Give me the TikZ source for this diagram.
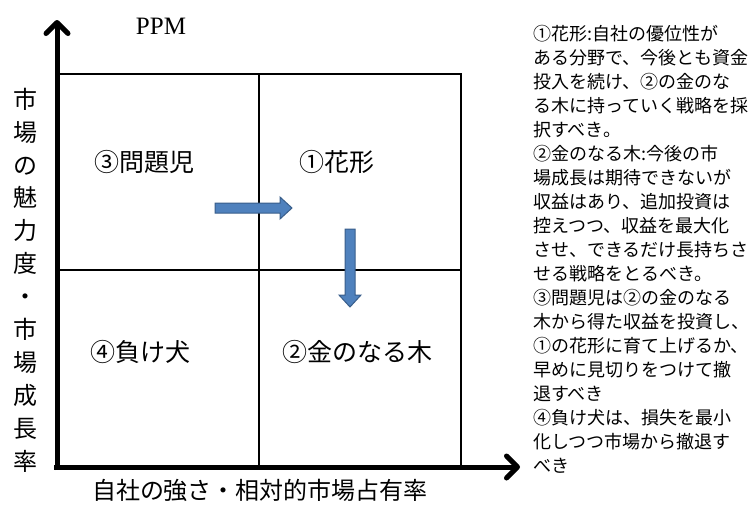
\documentclass[tikz,border=0pt]{standalone}
\usepackage{fontspec}
\setmainfont{Liberation Serif}
\newfontfamily\jp{Noto Sans CJK JP}
\usetikzlibrary{arrows.meta}
\definecolor{arrfill}{HTML}{4F81BD}
\definecolor{arrdraw}{HTML}{385D8A}
\begin{document}
\begin{tikzpicture}[x=1pt,y=-1pt,
  gridline/.style={line width=2pt,black},
  axisline/.style={line width=5pt,black,-{Straight Barb[length=11pt,width=22pt,round]}},
  quad/.style={font=\jp\fontsize{25}{30}\selectfont,inner sep=0pt},
  blockarrow/.style={fill=arrfill,draw=arrdraw,line width=1pt,line join=miter}]
\useasboundingbox (0,0) rectangle (753,504);
% grid
\coordinate (tl) at (57,74);
\coordinate (br) at (461,467);
\coordinate (mt) at (259,74);
\coordinate (mb) at (259,467);
\coordinate (ml) at (57,270);
\coordinate (mr) at (461,270);
\draw[gridline] (tl) rectangle (br);
\draw[gridline] (mt) -- (mb);
\draw[gridline] (ml) -- (mr);
% axes
\coordinate (ys) at (57,470);
\coordinate (ye) at (57,20);
\coordinate (xs) at (54,467);
\coordinate (xe) at (520,467);
\draw[axisline] (ys) -- (ye);
\draw[axisline] (xs) -- (xe);
% labels
\node[font=\fontsize{25}{30}\selectfont,inner sep=0pt] (ppm) at (161,26) {PPM};
\node[quad] (q3) at (144,162) {③問題児};
\node[quad] (q1) at (337,162) {①花形};
\node[quad] (q4) at (140,352) {④負け犬};
\node[quad] (q2) at (357,352) {②金のなる木};
\node[font=\jp\fontsize{24}{32.9}\selectfont,align=center,inner sep=0pt] (yl) at (25,280)
 {市\\場\\の\\魅\\力\\度\\・\\市\\場\\成\\長\\率};
\node[font=\jp\fontsize{24}{30}\selectfont,inner sep=0pt] (xl) at (260,490) {自社の強さ・相対的市場占有率};
% blue arrows
\draw[blockarrow] (215,203) -- (280,203) -- (280,197) -- (292,208) -- (280,219) -- (280,213) -- (215,213) -- cycle;
\draw[blockarrow] (345,229) -- (355,229) -- (355,295) -- (361,295) -- (350,307) -- (339,295) -- (345,295) -- cycle;
% notes
\node[font=\jp\fontsize{18}{24}\selectfont,align=left,anchor=north west,inner sep=0pt] (notes) at (533,25)
 {①花形:自社の優位性が\\
ある分野で、今後とも資金\\
投入を続け、②の金のな\\
る木に持っていく戦略を採\\
択すべき。\\
②金のなる木:今後の市\\
場成長は期待できないが\\
収益はあり、追加投資は\\
控えつつ、収益を最大化\\
させ、できるだけ長持ちさ\\
せる戦略をとるべき。\\
③問題児は②の金のなる\\
木から得た収益を投資し、\\
①の花形に育て上げるか、\\
早めに見切りをつけて撤\\
退すべき\\
④負け犬は、損失を最小\\
化しつつ市場から撤退す\\
べき};
\end{tikzpicture}
\end{document}
